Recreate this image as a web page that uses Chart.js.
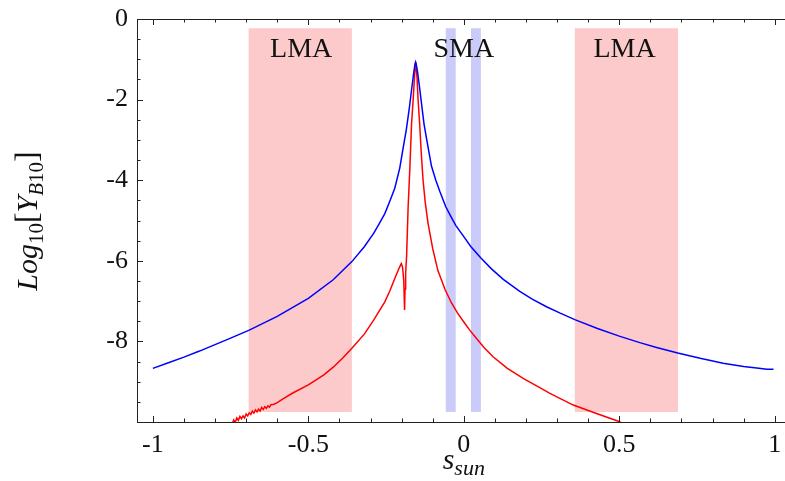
<!DOCTYPE html>
<html>
<head>
<meta charset="utf-8">
<script src="https://cdn.jsdelivr.net/npm/chart.js@4.4.1/dist/chart.umd.min.js"></script>
<style>
  html, body { margin: 0; padding: 0; background: #fff; overflow: hidden; }
  #wrap { width: 785px; height: 481px; }
</style>
</head>
<body>
<div id="wrap"><canvas id="chart" width="785" height="481"></canvas></div>
<script>
// Blue curve
const blueX = [-1, -0.95, -0.9, -0.85, -0.8, -0.75, -0.69, -0.6, -0.5, -0.42, -0.36, -0.32, -0.29, -0.27,
  -0.254, -0.238, -0.222, -0.206, -0.195, -0.185, -0.175, -0.167, -0.161, -0.157, -0.155, -0.153, -0.149,
  -0.143, -0.136, -0.128, -0.118, -0.104, -0.09, -0.077, -0.058, -0.04, -0.026, 0, 0.023, 0.055, 0.089,
  0.127, 0.18, 0.22, 0.266, 0.31, 0.357, 0.43, 0.5, 0.566, 0.62, 0.688, 0.76, 0.834, 0.9, 0.942, 0.975, 0.996];
const blueY = [-8.67, -8.53, -8.39, -8.24, -8.08, -7.92, -7.72, -7.38, -6.93, -6.47, -6.02, -5.65, -5.32, -5.05,
  -4.83, -4.52, -4.2, -3.7, -3.2, -2.75, -2.2, -1.7, -1.33, -1.12, -1.07, -1.12, -1.3,
  -1.65, -2.1, -2.6, -3.05, -3.65, -4.0, -4.28, -4.66, -4.92, -5.12, -5.4, -5.65, -5.93, -6.2,
  -6.46, -6.76, -6.95, -7.14, -7.3, -7.46, -7.68, -7.87, -8.03, -8.15, -8.29, -8.42, -8.54, -8.62, -8.66, -8.69, -8.69];

// Red curve
const redX = [-0.745, -0.74, -0.735, -0.73, -0.725, -0.72, -0.715, -0.71, -0.705, -0.7, -0.695, -0.69, -0.685,
  -0.68, -0.675, -0.67, -0.665, -0.66, -0.655, -0.65, -0.645, -0.64, -0.635, -0.63, -0.625, -0.62, -0.61, -0.6,
  -0.58, -0.55, -0.5, -0.45, -0.42, -0.39, -0.36, -0.32, -0.29, -0.254, -0.238, -0.22, -0.208, -0.201, -0.197,
  -0.193, -0.1905, -0.189, -0.187, -0.184, -0.179, -0.174, -0.168, -0.163, -0.159, -0.156, -0.155, -0.153, -0.15,
  -0.147, -0.142, -0.137, -0.131, -0.124, -0.115, -0.1, -0.083, -0.06, -0.04, -0.02, 0.003, 0.019, 0.041, 0.065,
  0.094, 0.14, 0.191, 0.24, 0.277, 0.352, 0.42, 0.497, 0.51];
const redY = [-10.05, -9.95, -10.01, -9.9, -9.96, -9.86, -9.92, -9.85, -9.9, -9.8, -9.85, -9.77, -9.81,
  -9.73, -9.78, -9.7, -9.75, -9.68, -9.73, -9.64, -9.69, -9.62, -9.66, -9.6, -9.63, -9.57, -9.56, -9.52,
  -9.42, -9.28, -9.08, -8.83, -8.64, -8.42, -8.17, -7.82, -7.47, -7.02, -6.75, -6.4, -6.18, -6.07, -6.15,
  -6.5, -7.22, -6.7, -6.3, -5.9, -4.66, -3.8, -2.6, -2.02, -1.5, -1.15, -1.07, -1.2, -1.5,
  -2.0, -2.6, -3.3, -4.0, -4.55, -5.07, -5.7, -6.25, -6.72, -7.04, -7.3, -7.55, -7.72, -7.93, -8.15,
  -8.38, -8.67, -8.92, -9.13, -9.29, -9.58, -9.77, -9.98, -10.03];

// Shaded bands [from, to] in s_sun, spanning bandY
const lmaBands = [[-0.692, -0.36], [0.357, 0.689]];
const smaBands = [[-0.058, -0.026], [0.023, 0.055]];
const bandY = [-9.75, -0.23];
const bandLabels = [['LMA', -0.523], ['SMA', 0.0], ['LMA', 0.517]];
const labelY = -0.73;

const xTicks = [-1, -0.5, 0, 0.5, 1];
const yTicks = [0, -2, -4, -6, -8];

const SERIF = '"Liberation Serif", "DejaVu Serif", serif';

const toPts = (xs, ys) => xs.map((x, i) => ({ x: x, y: ys[i] }));

// bands and labels under the curves
const bandsPlugin = {
    id: 'bands',
    beforeDatasetsDraw(chart) {
        const { ctx, scales: { x, y } } = chart;
        const top = y.getPixelForValue(bandY[1]);
        const bot = y.getPixelForValue(bandY[0]);
        ctx.save();
        ctx.fillStyle = '#fccaca';
        lmaBands.forEach(b => {
            const l = x.getPixelForValue(b[0]), r = x.getPixelForValue(b[1]);
            ctx.fillRect(l, top, r - l, bot - top);
        });
        ctx.fillStyle = '#cbcbf9';
        smaBands.forEach(b => {
            const l = x.getPixelForValue(b[0]), r = x.getPixelForValue(b[1]);
            ctx.fillRect(l, top, r - l, bot - top);
        });
        ctx.fillStyle = '#111';
        ctx.font = '28px ' + SERIF;
        ctx.textAlign = 'center';
        ctx.textBaseline = 'middle';
        bandLabels.forEach(([t, v]) => {
            ctx.fillText(t, x.getPixelForValue(v), y.getPixelForValue(labelY) + 1);
        });
        ctx.restore();
    }
};

// draw a row of text pieces: [text, font, dy]
const drawRuns = (ctx, runs, cx, baseY) => {
    let total = 0;
    runs.forEach(r => { ctx.font = r[1]; total += ctx.measureText(r[0]).width; });
    let px = cx - total / 2;
    ctx.textAlign = 'left';
    ctx.textBaseline = 'alphabetic';
    runs.forEach(r => {
        ctx.font = r[1];
        ctx.fillText(r[0], px, baseY + r[2]);
        px += ctx.measureText(r[0]).width;
    });
};

// frame, inward ticks and axis titles
const framePlugin = {
    id: 'frame',
    afterDraw(chart) {
        const { ctx, chartArea: a, scales: { x, y } } = chart;
        ctx.save();
        ctx.strokeStyle = '#222';
        ctx.lineWidth = 1;
        ctx.beginPath();
        ctx.moveTo(a.right + 5, a.top + 0.5);
        ctx.lineTo(a.left + 0.5, a.top + 0.5);
        ctx.lineTo(a.left + 0.5, a.bottom + 0.5);
        ctx.lineTo(a.right + 5, a.bottom + 0.5);
        ctx.stroke();

        ctx.beginPath();
        for (let i = -10; i <= 10; i++) {
            const px = Math.round(x.getPixelForValue(i / 10)) + 0.5;
            const len = i % 5 === 0 ? 6 : 3.5;
            ctx.moveTo(px, a.bottom);
            ctx.lineTo(px, a.bottom - len);
            ctx.moveTo(px, a.top);
            ctx.lineTo(px, a.top + len);
        }
        for (let j = 0; j <= 20; j++) {
            const py = Math.round(y.getPixelForValue(-j / 2)) + 0.5;
            const len = j % 4 === 0 ? 6 : 3.5;
            ctx.moveTo(a.left, py);
            ctx.lineTo(a.left + len, py);
        }
        ctx.stroke();

        ctx.fillStyle = '#111';
        // x title: s_sun
        drawRuns(ctx, [
            ['s', 'italic 30px ' + SERIF, 0],
            ['sun', 'italic 22px ' + SERIF, 6]
        ], x.getPixelForValue(0), 469);

        // y title: Log10[YB10]
        ctx.translate(37, 221);
        ctx.rotate(-Math.PI / 2);
        drawRuns(ctx, [
            ['Log', 'italic 30px ' + SERIF, 0],
            ['10', '21px ' + SERIF, 6],
            ['[', '32px ' + SERIF, 0],
            ['Y', 'italic 30px ' + SERIF, 0],
            ['B', 'italic 21px ' + SERIF, 6],
            ['10', '21px ' + SERIF, 6],
            [']', '32px ' + SERIF, 0]
        ], 0, 0);
        ctx.restore();
    }
};

new Chart(document.getElementById('chart').getContext('2d'), {
    type: 'scatter',
    data: {
        datasets: [{
            label: 'blue',
            data: toPts(blueX, blueY),
            showLine: true,
            borderColor: '#0000ff',
            borderWidth: 1.5,
            pointRadius: 0,
            tension: 0
        }, {
            label: 'red',
            data: toPts(redX, redY),
            showLine: true,
            borderColor: '#ff0000',
            borderWidth: 1.5,
            pointRadius: 0,
            tension: 0
        }]
    },
    options: {
        responsive: false,
        animation: false,
        events: [],
        layout: { padding: { top: 19, right: 0, bottom: 0, left: 0 } },
        plugins: { legend: { display: false }, tooltip: { enabled: false } },
        scales: {
            x: {
                type: 'linear',
                min: -1.051,
                max: 1.033,
                grid: { display: false, drawTicks: false },
                border: { display: false },
                afterBuildTicks: scale => { scale.ticks = xTicks.map(v => ({ value: v })); },
                afterFit: scale => {
                    scale.height = 59;
                    scale.paddingLeft = 0;
                    scale.paddingRight = 0;
                },
                ticks: {
                    color: '#111',
                    padding: 8,
                    maxRotation: 0,
                    font: { family: SERIF, size: 26 },
                    callback: v => String(v)
                }
            },
            y: {
                type: 'linear',
                min: -10,
                max: 0,
                grid: { display: false, drawTicks: false },
                border: { display: false },
                afterBuildTicks: scale => { scale.ticks = yTicks.map(v => ({ value: v })); },
                afterFit: scale => {
                    scale.width = 137;
                    scale.paddingTop = 0;
                    scale.paddingBottom = 0;
                },
                ticks: {
                    color: '#111',
                    padding: 9,
                    font: { family: SERIF, size: 26 },
                    callback: v => String(v)
                }
            }
        }
    },
    plugins: [bandsPlugin, framePlugin]
});
</script>
</body>
</html>
